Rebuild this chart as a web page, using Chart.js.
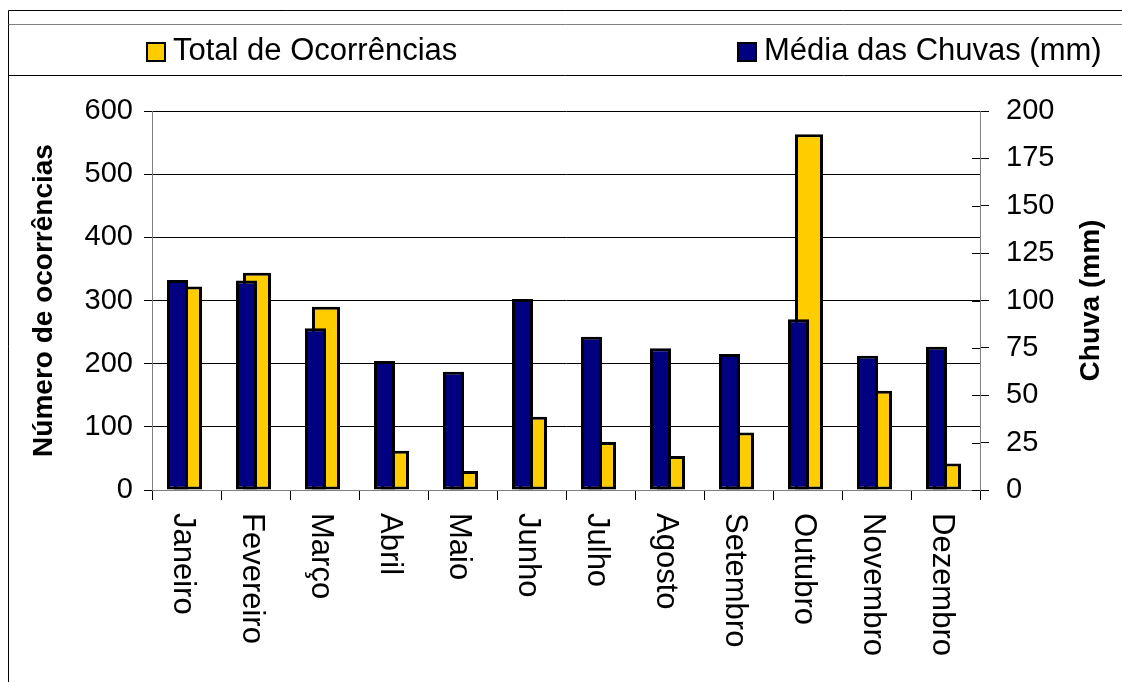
<!DOCTYPE html>
<html>
<head>
<meta charset="utf-8">
<script src="https://cdn.jsdelivr.net/npm/chart.js@4.4.0/dist/chart.umd.min.js"></script>
<style>
  html, body { margin: 0; padding: 0; background: #fff; }
</style>
</head>
<body>
<canvas id="ocorrencias" width="1122" height="682"></canvas>
<script>
const meses = ['Janeiro', 'Fevereiro', 'Março', 'Abril', 'Maio', 'Junho',
  'Julho', 'Agosto', 'Setembro', 'Outubro', 'Novembro', 'Dezembro'];
const totalOcorrencias = [322, 344, 290, 62, 30, 116, 76, 54, 91, 563, 157, 42];
const mediaChuvas = [110.8, 110.5, 85.3, 68.1, 62.4, 100.8, 80.9, 74.8, 71.8, 90.1, 70.9, 75.6];
const ticksOcorrencias = [0, 100, 200, 300, 400, 500, 600];
const ticksChuva = [0, 25, 50, 75, 100, 125, 150, 175, 200];

const FONTE = '"Liberation Sans", Arial, Helvetica, sans-serif';
Chart.defaults.font.family = FONTE;
Chart.defaults.color = '#000';

// moldura e caixa da legenda
const moldura = {
  id: 'moldura',
  beforeDraw(chart) {
    const { ctx, width, height } = chart;
    ctx.save();
    ctx.fillStyle = '#fff';
    ctx.fillRect(0, 0, width, height);
    ctx.lineWidth = 1;
    ctx.strokeStyle = '#000';
    ctx.beginPath();
    ctx.moveTo(8.5, height);
    ctx.lineTo(8.5, 10.5);
    ctx.lineTo(width, 10.5);
    ctx.moveTo(8.5, 75.5);
    ctx.lineTo(width, 75.5);
    ctx.stroke();
    ctx.strokeStyle = '#808080';
    ctx.beginPath();
    ctx.moveTo(8.5, 24.5);
    ctx.lineTo(width, 24.5);
    ctx.stroke();
    ctx.restore();
  }
};

// legenda, rótulos dos meses na vertical e título do eixo da direita
const textos = {
  id: 'textos',
  afterDraw(chart) {
    const { ctx, chartArea } = chart;
    const x = chart.scales.x;
    const y2 = chart.scales.y2;
    ctx.save();

    const posLegenda = [147, 738];
    ctx.font = '31px ' + FONTE;
    ctx.textBaseline = 'alphabetic';
    ctx.textAlign = 'left';
    chart.data.datasets.forEach((ds, i) => {
      const lx = posLegenda[i];
      ctx.fillStyle = ds.backgroundColor;
      ctx.fillRect(lx, 43, 18, 18);
      ctx.lineWidth = 2;
      ctx.strokeStyle = '#000';
      ctx.strokeRect(lx, 43, 18, 18);
      ctx.fillStyle = '#000';
      ctx.fillText(ds.label, lx + 26, 60);
    });

    ctx.font = '31px ' + FONTE;
    meses.forEach((m, i) => {
      ctx.save();
      ctx.translate(x.getPixelForValue(i) - 13, x.top + 23);
      ctx.rotate(Math.PI / 2);
      ctx.fillText(m, 0, 0);
      ctx.restore();
    });

    // parte interna das marcas do eixo da direita
    ctx.strokeStyle = '#000';
    ctx.lineWidth = 1;
    ctx.beginPath();
    y2.ticks.forEach(t => {
      const py = Math.round(y2.getPixelForValue(t.value)) + 0.5;
      ctx.moveTo(chartArea.right - 8, py);
      ctx.lineTo(chartArea.right, py);
    });
    ctx.stroke();

    ctx.font = 'bold 28px ' + FONTE;
    ctx.textAlign = 'center';
    ctx.textBaseline = 'middle';
    ctx.translate(1091, (chartArea.top + chartArea.bottom) / 2);
    ctx.rotate(-Math.PI / 2);
    ctx.fillText('Chuva (mm)', 0, 0);
    ctx.restore();
  }
};

new Chart(document.getElementById('ocorrencias'), {
  type: 'bar',
  data: {
    labels: meses,
    datasets: [
      {
        label: 'Total de Ocorrências',
        data: totalOcorrencias,
        yAxisID: 'y',
        backgroundColor: '#FFCC00',
        borderColor: '#000',
        borderWidth: 3,
        borderSkipped: false,
        order: 1,
        categoryPercentage: 0.087,
        barPercentage: 9.33
      },
      {
        label: 'Média das Chuvas (mm)',
        data: mediaChuvas,
        yAxisID: 'y2',
        backgroundColor: '#000080',
        borderColor: '#000',
        borderWidth: 3,
        borderSkipped: false,
        order: 0,
        categoryPercentage: 0.522,
        barPercentage: 1.167
      }
    ]
  },
  options: {
    responsive: false,
    animation: false,
    devicePixelRatio: 1,
    layout: { padding: { left: 10, right: 0, top: 111, bottom: 0 } },
    plugins: {
      legend: { display: false },
      tooltip: { enabled: false }
    },
    scales: {
      x: {
        offset: true,
        grid: { offset: true, drawOnChartArea: false, drawTicks: true, tickLength: 10, color: '#000' },
        border: { color: '#808080' },
        ticks: { display: false },
        afterFit: s => { s.height = 192; }
      },
      y: {
        position: 'left',
        min: ticksOcorrencias[0],
        max: ticksOcorrencias[ticksOcorrencias.length - 1],
        afterBuildTicks: s => { s.ticks = ticksOcorrencias.map(v => ({ value: v })); },
        ticks: { font: { size: 29 }, padding: 11 },
        grid: { color: '#000', tickLength: 8 },
        border: { color: '#808080' },
        title: {
          display: true,
          text: 'Número de ocorrências',
          font: { size: 28, weight: 'bold' },
          padding: { top: 17, bottom: 0 }
        },
        afterFit: s => { s.width = 142; }
      },
      y2: {
        position: 'right',
        min: ticksChuva[0],
        max: ticksChuva[ticksChuva.length - 1],
        afterBuildTicks: s => { s.ticks = ticksChuva.map(v => ({ value: v })); },
        ticks: { font: { size: 29 }, padding: 17 },
        grid: { drawOnChartArea: false, color: '#000', tickLength: 9 },
        border: { color: '#808080' },
        afterFit: s => { s.width = 142; }
      }
    }
  },
  plugins: [moldura, textos]
});
</script>
</body>
</html>
